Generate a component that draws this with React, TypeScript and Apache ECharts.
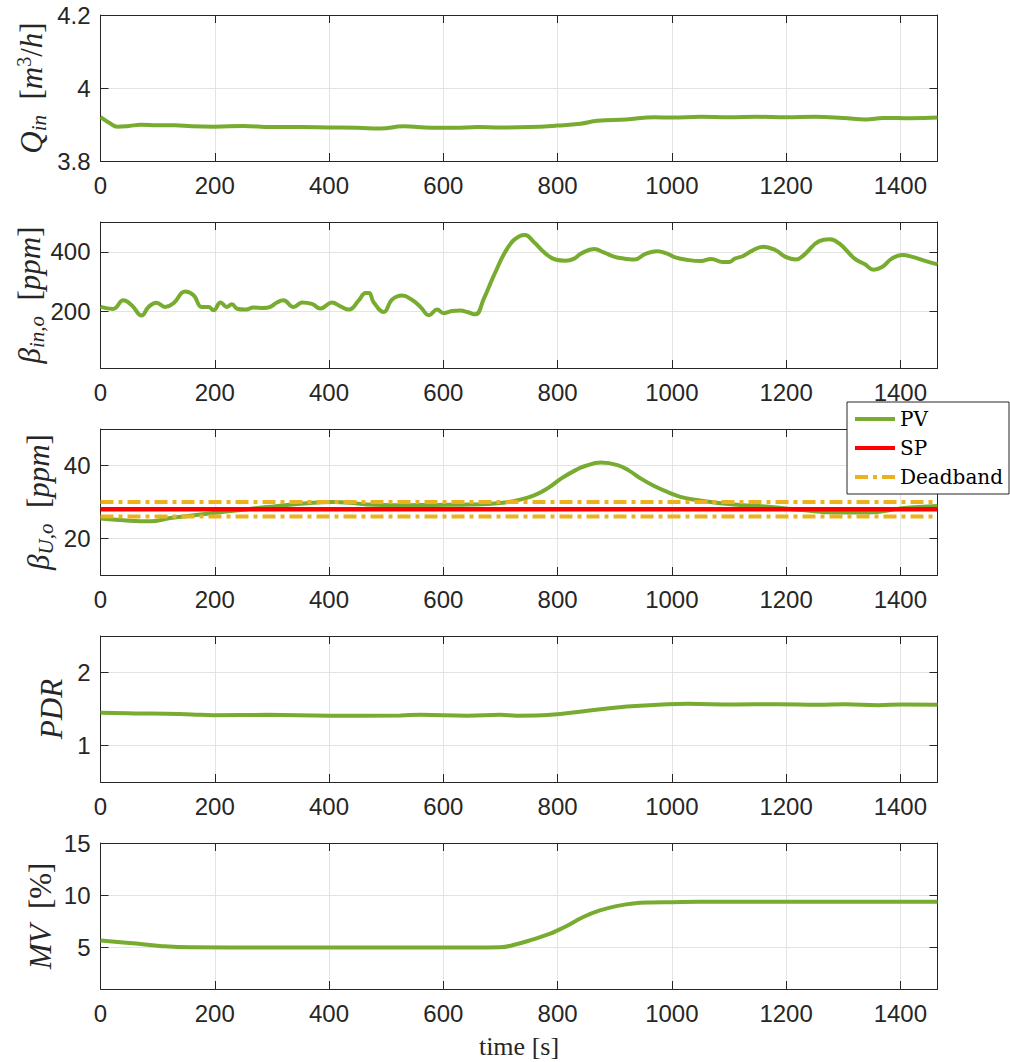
import React, { useEffect, useRef } from "react";
import * as echarts from "echarts";

// ---------- data ----------
const timeTicks = [0, 200, 400, 600, 800, 1000, 1200, 1400];
const timeMax = 1465;

const qinTime = [0, 15, 30, 50, 70, 100, 130, 160, 200, 250, 300, 350, 400, 450, 490, 530, 580, 620, 660, 700, 750, 800, 840, 870, 920, 970, 1000, 1050, 1100, 1150, 1200, 1250, 1300, 1340, 1370, 1420, 1465];
const qinValues = [3.92, 3.905, 3.894, 3.896, 3.899, 3.898, 3.898, 3.895, 3.894, 3.896, 3.893, 3.893, 3.892, 3.891, 3.889, 3.895, 3.891, 3.891, 3.893, 3.892, 3.893, 3.897, 3.902, 3.91, 3.914, 3.92, 3.919, 3.921, 3.92, 3.921, 3.92, 3.921, 3.918, 3.914, 3.918, 3.917, 3.919];
const qinTicks = [3.8, 4, 4.2];

const betaInTime = [0, 22, 40, 55, 72, 84, 98, 113, 128, 148, 163, 177, 189, 198, 210, 221, 230, 239, 253, 268, 285, 297, 309, 320, 338, 353, 370, 385, 405, 420, 435, 452, 464, 470, 478, 496, 510, 528, 545, 560, 575, 589, 601, 615, 630, 642, 656, 671, 690, 714, 734, 743, 758, 779, 796, 814, 829, 841, 864, 882, 900, 918, 935, 953, 974, 992, 1006, 1030, 1051, 1069, 1089, 1101, 1110, 1125, 1140, 1160, 1181, 1199, 1217, 1231, 1258, 1276, 1293, 1320, 1338, 1353, 1368, 1385, 1403, 1421, 1439, 1459, 1465];
const betaInValues = [215, 208, 237, 220, 186, 215, 229, 215, 228, 267, 254, 215, 215, 204, 230, 215, 224, 209, 206, 213, 211, 215, 230, 237, 215, 230, 225, 210, 230, 217, 206, 237, 262, 262, 231, 198, 239, 253, 239, 215, 187, 206, 194, 201, 203, 198, 190, 243, 327, 417, 453, 456, 434, 394, 374, 370, 377, 394, 409, 397, 383, 377, 374, 392, 402, 394, 381, 372, 369, 376, 366, 366, 377, 386, 403, 417, 406, 383, 374, 389, 436, 442, 428, 377, 358, 340, 349, 377, 389, 383, 372, 361, 358];
const betaInTicks = [200, 400];

const betaUTime = [0, 40, 87, 122, 160, 198, 250, 291, 350, 408, 437, 466, 520, 583, 650, 700, 730, 759, 785, 806, 830, 847, 876, 905, 925, 946, 970, 993, 1015, 1040, 1081, 1120, 1169, 1228, 1286, 1345, 1403, 1465];
const betaUValues = [25.5, 25.0, 24.7, 25.6, 26.3, 27.0, 27.9, 28.6, 29.5, 30.0, 29.8, 29.3, 29.1, 29.2, 29.3, 29.7, 30.5, 31.8, 34.0, 36.4, 38.6, 39.8, 40.8, 40.1, 38.6, 36.4, 34.3, 32.7, 31.4, 30.6, 29.7, 29.2, 28.7, 27.8, 27.1, 27.1, 28.3, 28.9];
const betaUTicks = [20, 40];
const setPoint = 28;
const deadbandLow = 26;
const deadbandHigh = 30;

const pdrTime = [0, 60, 116, 160, 198, 291, 402, 525, 560, 642, 700, 729, 788, 846, 922, 993, 1028, 1110, 1186, 1256, 1303, 1361, 1403, 1465];
const pdrValues = [1.447, 1.44, 1.434, 1.425, 1.415, 1.42, 1.408, 1.412, 1.42, 1.408, 1.42, 1.408, 1.42, 1.47, 1.534, 1.566, 1.571, 1.562, 1.566, 1.557, 1.566, 1.553, 1.562, 1.557];
const pdrTicks = [1, 2];

const mvTime = [0, 57, 104, 157, 300, 500, 650, 699, 728, 757, 787, 800, 816, 845, 874, 903, 932, 962, 1000, 1049, 1136, 1300, 1465];
const mvValues = [5.64, 5.38, 5.13, 5.0, 4.98, 4.98, 4.98, 5.0, 5.29, 5.76, 6.3, 6.62, 7.04, 7.9, 8.53, 8.95, 9.2, 9.3, 9.33, 9.36, 9.36, 9.36, 9.36];
const mvTicks = [5, 10, 15];

// ---------- styling ----------
const AX = "#262626";
const GRID = "#e3e3e3";
const GREEN = "#77AC30";
const RED = "#FF0000";
const YELLOW = "#EDB120";
const SANS = "Liberation Sans";
const SERIF = "Liberation Serif";

const pairs = (t: number[], v: number[]) => t.map((x, i) => [x, v[i]]);

const mathRich = {
  i: { fontFamily: SERIF, fontStyle: "italic", fontSize: 31, color: AX },
  r: { fontFamily: SERIF, fontSize: 31, color: AX },
  s: { fontFamily: SERIF, fontStyle: "italic", fontSize: 21, color: AX, padding: [15, 0, 0, 0] },
  p: { fontFamily: SERIF, fontSize: 20, color: AX, padding: [0, 0, 15, 0] },
};

const panels = [
  { top: 15, min: 3.8, max: 4.2, ticks: qinTicks, name: "{i|Q}{s|in} {r| [}{i|m}{p|3}{r|/}{i|h}{r|]}", gap: 51 },
  { top: 222, min: 10, max: 500, ticks: betaInTicks, name: "{i|β}{s|in,o} {r| [}{i|ppm}{r|]}", gap: 53 },
  { top: 429, min: 10, max: 50, ticks: betaUTicks, name: "{i|β}{s|U,o} {r| [}{i|ppm}{r|]}", gap: 44 },
  { top: 636, min: 0.5, max: 2.5, ticks: pdrTicks, name: "{i|PDR}", gap: 34 },
  { top: 843, min: 1, max: 15, ticks: mvTicks, name: "{i|MV} {r| [%]}", gap: 45 },
];

const LEFT = 100.5;
const WIDTH = 837;
const HEIGHT = 146;
const fmt = (v: number) => String(v);

function buildOption() {
  const grid: any[] = [];
  const xAxis: any[] = [];
  const yAxis: any[] = [];
  panels.forEach((p, i) => {
    grid.push({ left: LEFT, top: p.top, width: WIDTH, height: HEIGHT, containLabel: false });
    xAxis.push({
      type: "value", gridIndex: i, min: 0, max: timeMax, position: "bottom",
      axisLine: { show: true, onZero: false, lineStyle: { color: AX, width: 1 } },
      axisTick: { show: true, inside: true, length: 8, customValues: timeTicks, lineStyle: { color: AX } },
      axisLabel: { customValues: timeTicks, formatter: fmt, color: AX, fontFamily: SANS, fontSize: 24, margin: 12 },
      splitLine: { show: true, lineStyle: { color: GRID, width: 1 } },
    });
    xAxis.push({
      type: "value", gridIndex: i, min: 0, max: timeMax, position: "top",
      axisLine: { show: true, onZero: false, lineStyle: { color: AX, width: 1 } },
      axisTick: { show: true, inside: true, length: 8, customValues: timeTicks, lineStyle: { color: AX } },
      axisLabel: { show: false },
      splitLine: { show: false },
    });
    yAxis.push({
      type: "value", gridIndex: i, min: p.min, max: p.max, position: "left",
      name: p.name, nameLocation: "middle", nameRotate: 90, nameGap: p.gap, nameMoveOverlap: false,
      nameTextStyle: { rich: mathRich, fontFamily: SERIF, fontSize: 31, color: AX },
      axisLine: { show: true, onZero: false, lineStyle: { color: AX, width: 1 } },
      axisTick: { show: true, inside: true, length: 8, customValues: p.ticks, lineStyle: { color: AX } },
      axisLabel: { customValues: p.ticks, formatter: fmt, color: AX, fontFamily: SANS, fontSize: 24, margin: 10 },
      splitLine: { show: true, lineStyle: { color: GRID, width: 1 } },
    });
    yAxis.push({
      type: "value", gridIndex: i, min: p.min, max: p.max, position: "right",
      axisLine: { show: true, onZero: false, lineStyle: { color: AX, width: 1 } },
      axisTick: { show: true, inside: true, length: 8, customValues: p.ticks, lineStyle: { color: AX } },
      axisLabel: { show: false },
      splitLine: { show: false },
    });
  });

  const line = (name: string, idx: number, data: any[], color: string, width: number, type: any = "solid") => ({
    type: "line", name, xAxisIndex: idx * 2, yAxisIndex: idx * 2, data,
    showSymbol: false, symbol: "none", smooth: 0.45,
    lineStyle: { color, width, type }, itemStyle: { color },
  });
  const dashDot = [13, 5, 4, 5];

  const series = [
    line("Qin", 0, pairs(qinTime, qinValues), GREEN, 4),
    line("betaIn", 1, pairs(betaInTime, betaInValues), GREEN, 4),
    line("PV", 2, pairs(betaUTime, betaUValues), GREEN, 4),
    { ...line("SP", 2, [[0, setPoint], [timeMax, setPoint]], RED, 4.5), smooth: false },
    { ...line("Deadband", 2, [[0, deadbandHigh], [timeMax, deadbandHigh]], YELLOW, 4, dashDot), smooth: false },
    { ...line("Deadband", 2, [[0, deadbandLow], [timeMax, deadbandLow]], YELLOW, 4, dashDot), smooth: false },
    line("PDR", 3, pairs(pdrTime, pdrValues), GREEN, 4),
    line("MV", 4, pairs(mvTime, mvValues), GREEN, 4),
  ];

  return {
    animation: false,
    backgroundColor: "#ffffff",
    grid, xAxis, yAxis, series,
    legend: {
      data: ["PV", "SP", "Deadband"],
      orient: "vertical",
      left: 847, top: 402,
      padding: [7, 6, 7, 6],
      itemGap: 9, itemWidth: 40, itemHeight: 14,
      itemStyle: { opacity: 0, borderWidth: 0 },
      lineStyle: { width: 4 },
      backgroundColor: "#ffffff",
      borderColor: AX, borderWidth: 1, borderRadius: 0,
      textStyle: { fontFamily: "DejaVu Serif", fontSize: 20, color: "#000" },
      selectedMode: false,
    },
    graphic: [
      {
        type: "text", x: 519, y: 1046,
        style: { text: "time [s]", font: "26px 'Liberation Serif'", fill: AX, align: "center", verticalAlign: "middle" },
      },
    ],
  };
}

export default function App() {
  const ref = useRef<HTMLDivElement>(null);
  useEffect(() => {
    if (!ref.current) return;
    const chart = echarts.init(ref.current, undefined, { renderer: "svg" });
    chart.setOption(buildOption() as any);
    return () => chart.dispose();
  }, []);
  return <div ref={ref} style={{ position: "absolute", left: 0, top: 0, width: 1010, height: 1062, background: "#fff" }} />;
}
